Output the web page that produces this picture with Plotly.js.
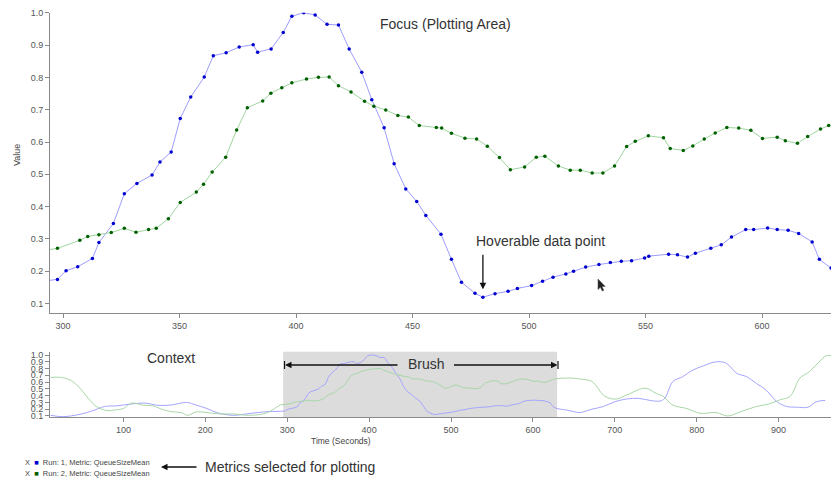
<!DOCTYPE html>
<html><head><meta charset="utf-8">
<script src="https://cdn.plot.ly/plotly-3.0.1.min.js"></script>
<style>html,body{margin:0;padding:0;background:#fff}#chart{width:833px;height:478px}</style>
</head><body><div id="chart"></div>
<script>
// ---- Data ----
const run1Time = [11,26,47,63,77,92,112,128,140,157,177,189,202,214,234,250,271,292,
  297.6,301.3,306.3,312.6,315.4,321.6,326.3,331.7,338.2,341.6,346.4,350.3,354.8,360.6,364.5,370.0,375.6,381.6,383.5,389.3,
  394.5,398.2,403.3,408.2,413.3,418.2,422.8,428.2,432.5,437.8,442.1,447.1,451.8,455.7,462.2,466.7,471.0,476.8,480.2,485.4,
  491.0,495.0,501.1,505.8,510.3,515.8,519.1,524.3,530.0,534.9,539.6,544.0,549.6,551.4,559.9,563.7,568.0,571.4,578.0,582.5,
  586.9,593.0,596.4,602.4,606.5,611.2,615.7,621.5,624.6,629.6,
  640,648,657,672,686,700,714,729,743,755,761,771,783,794,808,824,836,849,861,873,885,898,910,922,936,946,957];
const run1Value = [0.11,0.09,0.125,0.18,0.24,0.25,0.28,0.29,0.26,0.26,0.30,0.26,0.21,0.15,0.11,0.13,0.16,0.17,
  0.175,0.202,0.214,0.240,0.289,0.348,0.440,0.472,0.498,0.538,0.569,0.673,0.739,0.801,0.867,0.876,0.894,0.901,0.878,0.888,
  0.939,0.989,1.0,0.993,0.964,0.962,0.888,0.816,0.731,0.644,0.533,0.455,0.416,0.373,0.315,0.237,0.166,0.132,0.120,0.131,
  0.138,0.147,0.156,0.169,0.182,0.192,0.200,0.213,0.221,0.227,0.231,0.233,0.241,0.247,0.253,0.251,0.244,0.256,0.271,0.282,
  0.306,0.329,0.329,0.334,0.329,0.327,0.317,0.291,0.237,0.210,
  0.19,0.17,0.15,0.20,0.24,0.31,0.35,0.36,0.33,0.32,0.36,0.61,0.68,0.77,0.84,0.90,0.88,0.73,0.68,0.58,0.48,0.31,0.24,0.23,0.23,0.31,0.33];

const run2Time = [11,23,35,47,57,67,80,90,100,110,124,136,149,161,171,178,189,202,218,234,255,276,292,
  297.6,307.2,310.6,315.4,320.7,326.3,331.3,336.7,340.0,345.2,350.3,357.2,360.3,364.0,369.8,374.5,379.1,385.7,389.2,393.9,
  398.2,404.5,409.6,414.2,418.2,423.6,429.4,433.4,438.5,443.7,448.2,452.9,460.2,462.5,466.7,472.5,477.5,482.1,487.3,492.0,
  498.1,503.1,506.8,512.6,517.7,522.0,527.1,531.7,536.7,541.9,545.6,551.2,557.7,560.6,566.2,570.3,575.2,579.9,584.9,590.0,
  595.2,600.2,606.5,610.0,615.2,619.6,625.1,628.6,
  640,648,661,672,688,702,718,737,751,759,771,788,804,824,838,853,873,889,902,914,926,936,948,958,965];
const run2Value = [0.67,0.67,0.63,0.51,0.36,0.24,0.18,0.19,0.21,0.29,0.26,0.25,0.19,0.16,0.15,0.11,0.16,0.15,0.13,0.13,0.11,0.15,0.265,
  0.271,0.296,0.308,0.313,0.320,0.333,0.321,0.329,0.333,0.363,0.413,0.445,0.469,0.507,0.553,0.637,0.706,0.727,0.751,0.768,
  0.783,0.795,0.800,0.801,0.774,0.755,0.726,0.711,0.699,0.682,0.677,0.651,0.645,0.643,0.627,0.612,0.609,0.587,0.552,0.514,
  0.523,0.553,0.556,0.526,0.513,0.513,0.504,0.504,0.526,0.586,0.602,0.619,0.613,0.580,0.574,0.588,0.609,0.628,0.645,0.643,
  0.636,0.611,0.615,0.604,0.596,0.617,0.640,0.651,
  0.66,0.66,0.64,0.61,0.39,0.35,0.43,0.51,0.43,0.39,0.26,0.21,0.14,0.15,0.10,0.16,0.24,0.28,0.34,0.39,0.66,0.74,0.88,0.99,0.99];

const focusTicks = [300,350,400,450,500,550,600];
const contextTicks = [100,200,300,400,500,600,700,800,900];
const valueTicks = [0.1,0.2,0.3,0.4,0.5,0.6,0.7,0.8,0.9,1.0];
const seriesNames = ['Run: 1, Metric: QueueSizeMean','Run: 2, Metric: QueueSizeMean'];
const brushRange = [295, 629.6];
const hoverPoint = [480.2, 0.120];

// ---- Layout helpers ----
const W = 833, H = 478;
const px = x => x / W, py = y => 1 - y / H;
const FONT = 'Liberation Sans, Arial, Helvetica, sans-serif';
const axisCol = '#8a8a8a', tickCol = '#555';

const blueLine = '#9c9cff', blueDot = '#0000d0';
const greenLine = '#9fd49f', greenDot = '#006000';

const traces = [
  {x: run1Time, y: run1Value, xaxis: 'x', yaxis: 'y', mode: 'lines+markers', name: seriesNames[0],
   line: {color: blueLine, width: 1}, marker: {color: blueDot, size: 3.5}, cliponaxis: true},
  {x: run2Time, y: run2Value, xaxis: 'x', yaxis: 'y', mode: 'lines+markers', name: seriesNames[1],
   line: {color: greenLine, width: 1}, marker: {color: greenDot, size: 3.5}, cliponaxis: true},
  {x: run1Time, y: run1Value, xaxis: 'x2', yaxis: 'y2', mode: 'lines', name: seriesNames[0],
   line: {color: '#a4a4ff', width: 1, shape: 'spline', smoothing: 1}, hoverinfo: 'skip'},
  {x: run2Time, y: run2Value, xaxis: 'x2', yaxis: 'y2', mode: 'lines', name: seriesNames[1],
   line: {color: '#a6d6a6', width: 1, shape: 'spline', smoothing: 1}, hoverinfo: 'skip'}
];

const axisBase = {showline: true, linecolor: axisCol, linewidth: 1, ticks: 'outside', ticklen: 4,
  tickcolor: axisCol, tickwidth: 1, showgrid: false, zeroline: false,
  tickfont: {family: FONT, size: 9, color: tickCol}, fixedrange: true};

const cursorPts = [[598,279],[598,289.5],[600.4,287.3],[602.2,291],[603.8,290.3],[602,286.6],[605.2,286.4]];
const cursorPath = 'M' + cursorPts.map(p => px(p[0]).toFixed(5) + ',' + py(p[1]).toFixed(5)).join('L') + 'Z';

const annText = (text, x, y, size, extra) => Object.assign({
  text, xref: 'paper', yref: 'paper', x: px(x), y: py(y), showarrow: false,
  font: {family: FONT, size: size, color: '#333'}, xanchor: 'center', yanchor: 'middle'}, extra || {});

const layout = {
  width: W, height: H, margin: {l: 0, r: 0, t: 0, b: 0},
  paper_bgcolor: '#fff', plot_bgcolor: 'rgba(0,0,0,0)', showlegend: false,
  xaxis: Object.assign({}, axisBase, {domain: [px(50), px(831)], range: [294.4, 629.6], tickvals: focusTicks, anchor: 'y'}),
  yaxis: Object.assign({}, axisBase, {domain: [py(312.7), py(12.7)], range: [0.072, 1.0], tickvals: valueTicks, tickformat: '.1f', anchor: 'x'}),
  xaxis2: Object.assign({}, axisBase, {domain: [px(50), px(831)], range: [10.3, 964], tickvals: contextTicks, anchor: 'y2'}),
  yaxis2: Object.assign({}, axisBase, {domain: [py(417), py(351.7)], range: [0.085, 1.049], tickvals: valueTicks, tickformat: '.1f', anchor: 'x2'}),
  shapes: [
    {type: 'rect', xref: 'x2', yref: 'paper', x0: brushRange[0], x1: brushRange[1], y0: py(417), y1: py(351.7),
     fillcolor: '#dcdcdc', line: {width: 0}, layer: 'below'},
    {type: 'line', xref: 'paper', yref: 'paper', x0: px(284.5), x1: px(284.5), y0: py(361), y1: py(369), line: {color: '#111', width: 1.2}},
    {type: 'line', xref: 'paper', yref: 'paper', x0: px(558), x1: px(558), y0: py(361), y1: py(369), line: {color: '#111', width: 1.2}},
    {type: 'path', xref: 'paper', yref: 'paper', path: cursorPath, fillcolor: '#222', line: {color: '#555', width: 0.6}}
  ],
  annotations: [
    annText('Focus (Plotting Area)', 445, 24, 14),
    annText('Hoverable data point', 540, 241, 14),
    annText('Context', 171, 358, 14),
    annText('Brush', 427, 364, 14),
    annText('Metrics selected for plotting', 290, 467, 14),
    annText('Time (Seconds)', 341, 441, 8.5, {font: {family: FONT, size: 8.5, color: '#444'}}),
    annText('Value', 17, 155, 9, {textangle: -90, font: {family: FONT, size: 9, color: '#444'}}),
    // arrows
    {text: '', xref: 'x', yref: 'y', x: hoverPoint[0], y: hoverPoint[1], ax: 0, ay: -44, axref: 'pixel', ayref: 'pixel',
     standoff: 8, showarrow: true, arrowhead: 2, arrowsize: 1, arrowwidth: 1.3, arrowcolor: '#111'},
    {text: '', xref: 'paper', yref: 'paper', x: px(285), y: py(365), ax: 114, ay: 0,
     showarrow: true, arrowhead: 2, arrowsize: 1, arrowwidth: 1.3, arrowcolor: '#111'},
    {text: '', xref: 'paper', yref: 'paper', x: px(557.5), y: py(365), ax: -105, ay: 0,
     showarrow: true, arrowhead: 2, arrowsize: 1, arrowwidth: 1.3, arrowcolor: '#111'},
    {text: '', xref: 'paper', yref: 'paper', x: px(161), y: py(467), ax: 37, ay: 0,
     showarrow: true, arrowhead: 2, arrowsize: 1, arrowwidth: 1.3, arrowcolor: '#111'},
    // legend rows
    {text: 'X  <span style="color:' + blueDot + '">■</span>  ' + seriesNames[0], xref: 'paper', yref: 'paper',
     x: px(23), y: py(462), xanchor: 'left', yanchor: 'middle', showarrow: false, font: {family: FONT, size: 7.5, color: '#444'}},
    {text: 'X  <span style="color:' + greenDot + '">■</span>  ' + seriesNames[1], xref: 'paper', yref: 'paper',
     x: px(23), y: py(473), xanchor: 'left', yanchor: 'middle', showarrow: false, font: {family: FONT, size: 7.5, color: '#444'}}
  ]
};

Plotly.newPlot('chart', traces, layout, {displayModeBar: false, staticPlot: false, responsive: false});
</script>
</body></html>
